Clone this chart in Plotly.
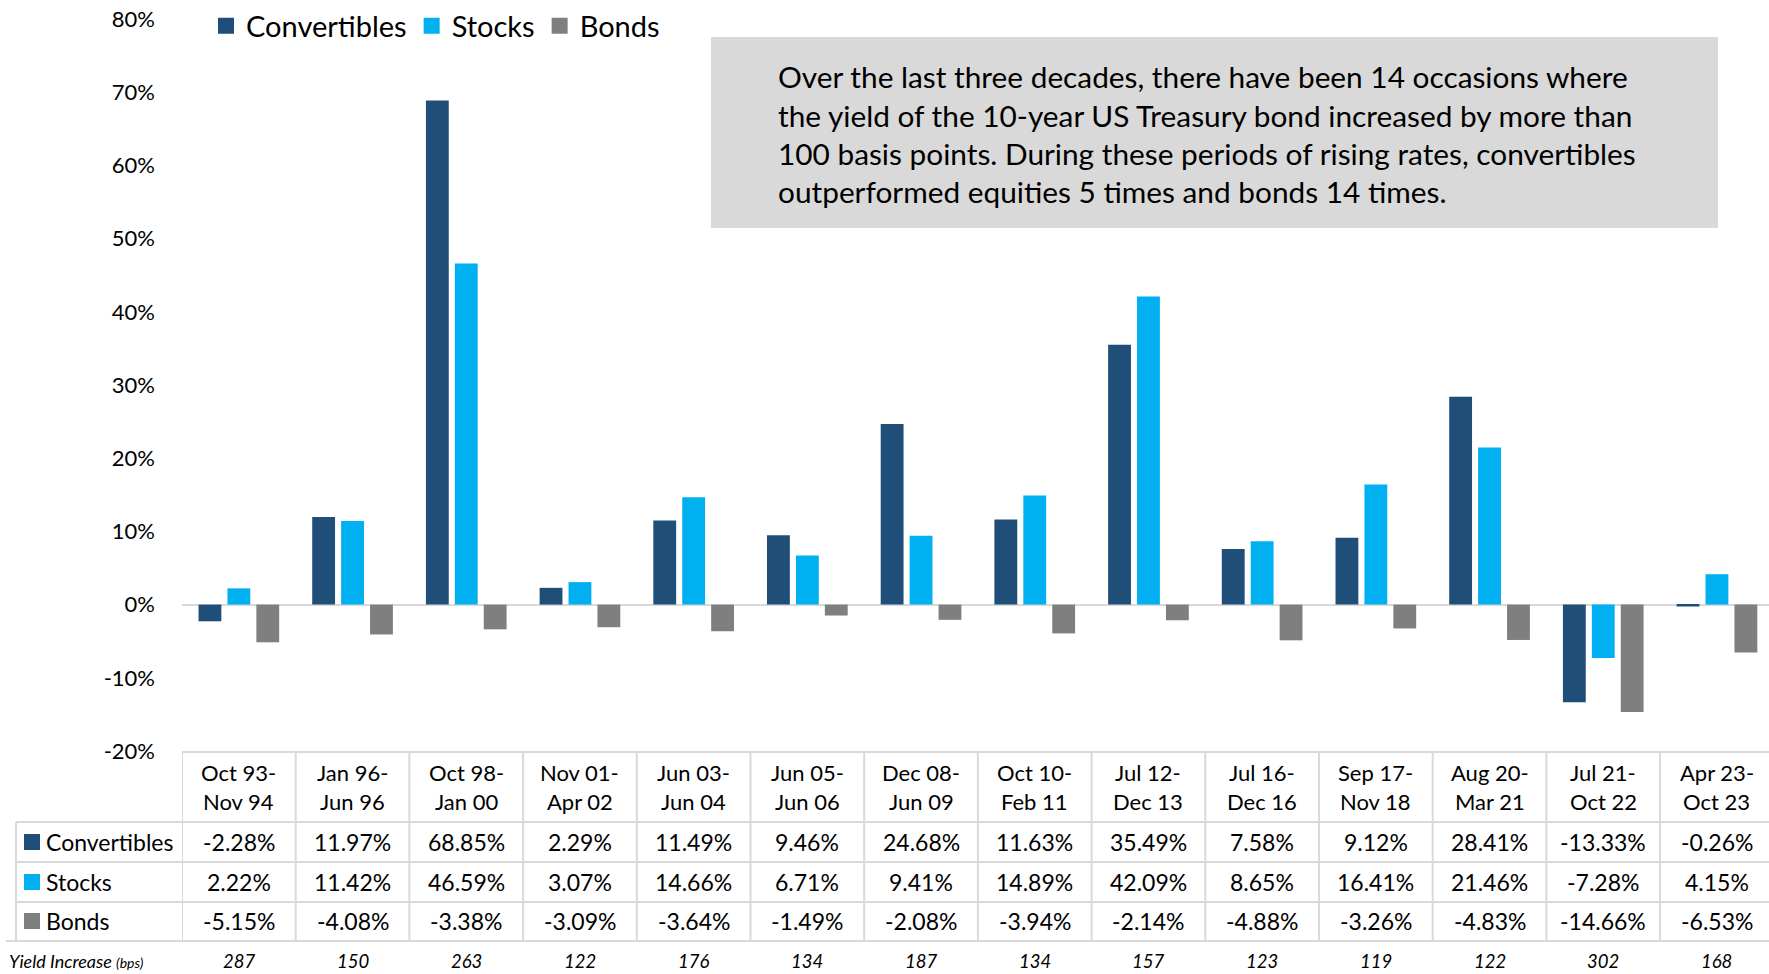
import plotly.graph_objects as go

# ---- data ----
period_start = ["Oct 93", "Jan 96", "Oct 98", "Nov 01", "Jun 03", "Jun 05", "Dec 08",
                "Oct 10", "Jul 12", "Jul 16", "Sep 17", "Aug 20", "Jul 21", "Apr 23"]
period_end = ["Nov 94", "Jun 96", "Jan 00", "Apr 02", "Jun 04", "Jun 06", "Jun 09",
              "Feb 11", "Dec 13", "Dec 16", "Nov 18", "Mar 21", "Oct 22", "Oct 23"]
convertibles = [-2.28, 11.97, 68.85, 2.29, 11.49, 9.46, 24.68, 11.63, 35.49, 7.58, 9.12, 28.41, -13.33, -0.26]
stocks = [2.22, 11.42, 46.59, 3.07, 14.66, 6.71, 9.41, 14.89, 42.09, 8.65, 16.41, 21.46, -7.28, 4.15]
bonds = [-5.15, -4.08, -3.38, -3.09, -3.64, -1.49, -2.08, -3.94, -2.14, -4.88, -3.26, -4.83, -14.66, -6.53]
yield_increase = [287, 150, 263, 122, 176, 134, 187, 134, 157, 123, 119, 122, 302, 168]
y_tick_values = [-20, -10, 0, 10, 20, 30, 40, 50, 60, 70, 80]
y_tick_labels = ["-20%", "-10%", "0%", "10%", "20%", "30%", "40%", "50%", "60%", "70%", "80%"]
series_names = ["Convertibles", "Stocks", "Bonds"]
series_colors = ["#1f4e79", "#00b0f0", "#7f7f7f"]
note_lines = [
    "Over the last three decades, there have been 14 occasions where",
    "the yield of the 10-year US Treasury bond increased by more than",
    "100 basis points. During these periods of rising rates, convertibles",
    "outperformed equities 5 times and bonds 14 times.",
]

categories = [f"{s}-{e}" for s, e in zip(period_start, period_end)]
series_values = [convertibles, stocks, bonds]

# ---- layout geometry (pixels) ----
W, H = 1769, 974
L, R = 182, 0
T, B = 19, 751            # plot top / bottom pixel
plot_w = W - L - R
plot_h = B - T
col_w = 113.7
FONT = "Lato"
GRID = "#d9d9d9"


def py(y):  # pixel y -> paper y
    return (B - y) / plot_h


def px(x):  # pixel x -> paper x
    return (x - L) / plot_w


fig = go.Figure()
for name, vals, col in zip(series_names, series_values, series_colors):
    fig.add_trace(go.Bar(x=categories, y=vals, name=name, marker_color=col,
                         marker_line_width=0, showlegend=False))
    fig.add_trace(go.Scatter(x=[None], y=[None], mode="markers", name=name,
                             marker=dict(symbol="square", size=17, color=col)))

x_hi = -0.5 + plot_w / col_w

shapes = []
# note box
shapes.append(dict(type="rect", xref="paper", yref="paper", x0=px(711), x1=px(1718),
                   y0=py(228), y1=py(37), fillcolor="#d9d9d9", line_width=0, layer="below"))
# table horizontal lines
line = dict(color=GRID, width=2)
shapes.append(dict(type="line", xref="x", yref="paper", x0=-0.5, x1=x_hi, y0=py(752), y1=py(752), line=line))
for yy in (822, 862, 902):
    shapes.append(dict(type="line", xref="paper", yref="paper", x0=px(16), x1=1, y0=py(yy), y1=py(yy), line=line))
shapes.append(dict(type="line", xref="paper", yref="paper", x0=px(6), x1=1, y0=py(941), y1=py(941), line=line))
# vertical lines
for i in range(len(categories) + 1):
    shapes.append(dict(type="line", xref="x", yref="paper", x0=i - 0.5, x1=i - 0.5,
                       y0=py(941), y1=py(752), line=line))
shapes.append(dict(type="line", xref="paper", yref="paper", x0=px(16), x1=px(16),
                   y0=py(941), y1=py(822), line=line))
# row legend keys
row_y = [842, 882, 921]
for yy, col in zip(row_y, series_colors):
    shapes.append(dict(type="rect", xref="paper", yref="paper", x0=px(24), x1=px(40),
                       y0=py(yy + 8), y1=py(yy - 8), fillcolor=col, line_width=0))

ann = []
for i, ln in enumerate(note_lines):
    ann.append(dict(text=ln, xref="paper", yref="paper", x=px(776), y=py(77 + 38 * i),
                    xanchor="left", yanchor="middle", showarrow=False,
                    font=dict(family=FONT, size=29.8, color="#000000")))
for c, s, e in zip(categories, period_start, period_end):
    ann.append(dict(text=f"{s}-", xref="x", yref="paper", x=c, y=py(772), showarrow=False,
                    xanchor="center", yanchor="middle", font=dict(family=FONT, size=22, color="#000000")))
    ann.append(dict(text=e, xref="x", yref="paper", x=c, y=py(801), showarrow=False,
                    xanchor="center", yanchor="middle", font=dict(family=FONT, size=22, color="#000000")))
for name, vals, yy in zip(series_names, series_values, row_y):
    ann.append(dict(text=name, xref="paper", yref="paper", x=px(44), y=py(yy), showarrow=False,
                    xanchor="left", yanchor="middle", font=dict(family=FONT, size=23, color="#000000")))
    for c, v in zip(categories, vals):
        ann.append(dict(text=f"{v:.2f}%", xref="x", yref="paper", x=c, y=py(yy), showarrow=False,
                        xanchor="center", yanchor="middle", font=dict(family=FONT, size=23, color="#000000")))
YIELD_Y = 961
ann.append(dict(text="<i>Yield Increase <span style='font-size:14px'>(bps)</span></i>", xref="paper",
                yref="paper", x=px(8), y=py(YIELD_Y), showarrow=False, xanchor="left", yanchor="middle",
                borderpad=0, font=dict(family=FONT, size=18, color="#000000")))
for c, v in zip(categories, yield_increase):
    ann.append(dict(text=f"<i>{v}</i>", xref="x", yref="paper", x=c, y=py(YIELD_Y), showarrow=False,
                    xanchor="center", yanchor="middle", borderpad=0,
                    font=dict(family=FONT, size=18.5, color="#000000")))

fig.update_layout(
    width=W, height=H,
    margin=dict(l=L, r=R, t=T, b=H - B, pad=0),
    paper_bgcolor="white", plot_bgcolor="white",
    barmode="group", bargap=0.237, bargroupgap=0.21,
    font=dict(family=FONT, color="#000000"),
    xaxis=dict(type="category", range=[-0.5, x_hi], showticklabels=False, showgrid=False,
               zeroline=False, showline=False, ticks=""),
    yaxis=dict(range=[-20, 80], tickmode="array", tickvals=y_tick_values, ticktext=y_tick_labels,
               showgrid=False, zeroline=True, zerolinecolor=GRID, zerolinewidth=2, showline=False,
               tickfont=dict(family=FONT, size=22, color="#000000"), ticklabelstandoff=26),
    legend=dict(orientation="h", x=px(206), xanchor="left", y=py(26), yanchor="middle",
                font=dict(family=FONT, size=29, color="#000000"), bgcolor="rgba(0,0,0,0)",
                itemwidth=30, tracegroupgap=0),
    shapes=shapes, annotations=ann,
)

fig.write_html("out.html", config={"displayModeBar": False},
               post_script="document.body.style.margin='0';document.body.style.overflow='hidden';")
